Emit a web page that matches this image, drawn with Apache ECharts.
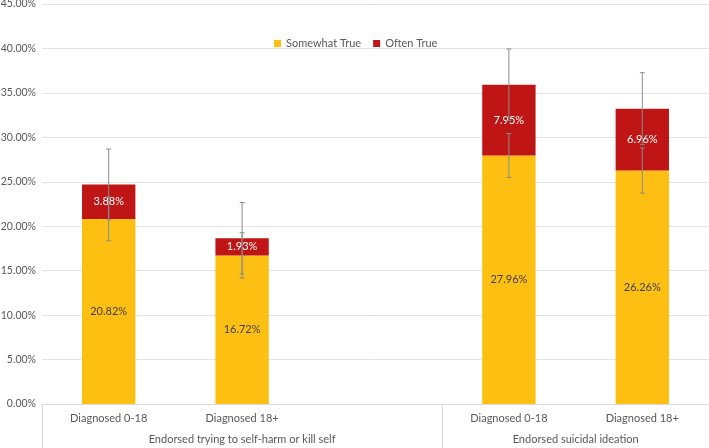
<!DOCTYPE html>
<html>
<head>
<meta charset="utf-8">
<script src="https://cdn.jsdelivr.net/npm/echarts@6/dist/echarts.min.js"></script>
<style>html,body{margin:0;padding:0;background:#fff}#c{width:709px;height:448px}</style>
</head>
<body>
<div id="c"></div>
<script>
const categories = ['Diagnosed 0-18', 'Diagnosed 18+', '', 'Diagnosed 0-18', 'Diagnosed 18+'];
const groupLabels = ['Endorsed trying to self-harm or kill self', 'Endorsed suicidal ideation'];
const somewhatTrue = [20.82, 16.72, null, 27.96, 26.26];
const oftenTrue = [3.88, 1.93, null, 7.95, 6.96];
const somewhatErr = [2.46, 2.55, null, 2.46, 2.54];
const oftenErr = [3.98, 4.02, null, 4.03, 4.05];
const yTicks = { min: 0, max: 45, interval: 5 };

const FONT = 'Lato';
const groupAxisData = ['', '', '', groupLabels[0], '', '', '', '', groupLabels[1], '', ''];
const groupBoundaries = [0, 6, 10];

const errSomewhat = [], errOften = [];
somewhatTrue.forEach((v, i) => {
  if (v == null) return;
  errSomewhat.push([i, v, somewhatErr[i]]);
  errOften.push([i, v + oftenTrue[i], oftenErr[i]]);
});

function errRender(params, api) {
  const x = api.value(0), c = api.value(1), e = api.value(2);
  const t = api.coord([x, c + e]), b = api.coord([x, c - e]);
  const w = 2.5;
  const st = { stroke: '#8c8c8c', lineWidth: 1 };
  return {
    type: 'group',
    children: [
      { type: 'line', shape: { x1: t[0], y1: t[1], x2: b[0], y2: b[1] }, style: st },
      { type: 'line', shape: { x1: t[0] - w, y1: t[1], x2: t[0] + w, y2: t[1] }, style: st },
      { type: 'line', shape: { x1: b[0] - w, y1: b[1], x2: b[0] + w, y2: b[1] }, style: st }
    ]
  };
}

const chart = echarts.init(document.getElementById('c'), null, { renderer: 'canvas' });
chart.setOption({
  animation: false,
  textStyle: { fontFamily: FONT },
  legend: {
    data: ['Somewhat True', 'Often True'],
    left: 269, top: 33,
    icon: 'rect', itemWidth: 7, itemHeight: 7, itemGap: 12, itemStyle: { borderWidth: 0 },
    textStyle: { fontFamily: FONT, fontSize: 11, color: '#595959' }
  },
  grid: { left: 42, right: 0, top: 4, bottom: 44, containLabel: false, outerBoundsMode: 'none' },
  xAxis: [
    {
      type: 'category', data: categories,
      axisLine: { show: true, lineStyle: { color: '#d9d9d9' } },
      axisTick: { show: false },
      axisLabel: { interval: 0, margin: 9, fontFamily: FONT, fontSize: 11, color: '#595959' }
    },
    {
      type: 'category', data: groupAxisData, position: 'bottom', boundaryGap: false,
      axisLine: { show: false },
      axisTick: {
        show: true, length: 44, interval: (idx) => groupBoundaries.includes(idx),
        lineStyle: { color: '#d9d9d9' }
      },
      axisLabel: { interval: 0, margin: 30, fontFamily: FONT, fontSize: 11, color: '#595959' }
    }
  ],
  yAxis: {
    type: 'value', min: yTicks.min, max: yTicks.max, interval: yTicks.interval,
    axisLine: { show: false }, axisTick: { show: false },
    splitLine: { lineStyle: { color: '#e3e3e3' } },
    axisLabel: { margin: 6, fontFamily: FONT, fontSize: 10.5, color: '#595959',
      formatter: v => v.toFixed(2) + '%' }
  },
  series: [
    {
      name: 'Somewhat True', type: 'bar', stack: 'total', barWidth: '40%', data: somewhatTrue,
      itemStyle: { color: '#FCBF12' },
      label: { show: true, position: 'inside', fontFamily: FONT, fontSize: 11, color: '#404040',
        formatter: p => p.value.toFixed(2) + '%' }
    },
    {
      name: 'Often True', type: 'bar', stack: 'total', barWidth: '40%', data: oftenTrue,
      itemStyle: { color: '#BF1515' },
      label: { show: true, position: 'inside', fontFamily: FONT, fontSize: 11, color: '#ffffff',
        formatter: p => p.value.toFixed(2) + '%' }
    },
    { type: 'custom', name: 'errS', renderItem: errRender, data: errSomewhat, encode: { x: 0, y: 1 }, z: 5, silent: true },
    { type: 'custom', name: 'errO', renderItem: errRender, data: errOften, encode: { x: 0, y: 1 }, z: 5, silent: true }
  ]
});
</script>
</body>
</html>
